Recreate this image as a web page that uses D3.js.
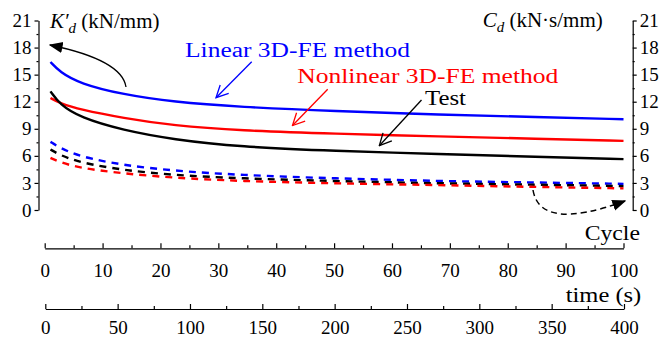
<!DOCTYPE html>
<html>
<head>
<meta charset="utf-8">
<script src="https://cdn.jsdelivr.net/npm/d3@7"></script>
<style>
  body { margin: 0; background: #fff; }
  svg text { font-family: 'Liberation Serif', 'DejaVu Serif', serif; }
  .axis path, .axis line { stroke: #000; stroke-width: 1.2; }
</style>
</head>
<body>
<svg id="chart"></svg>
<script>
// Dynamic stiffness K'd and damping Cd versus cycle / time

const cycles = [1, 2.6, 6.1, 13.5, 22.2, 33.7, 50, 68.3, 85, 100];

// solid lines: K'd (left axis)
const kLinear    = [16.4, 15.3, 14.0, 12.8, 11.97, 11.42, 10.95, 10.57, 10.3, 10.06];
const kNonlinear = [12.41, 11.85, 11.13, 10.2, 9.35, 8.8, 8.45, 8.15, 7.9, 7.66];
const kTest      = [13.15, 11.7, 10.25, 8.84, 7.81, 7.0, 6.55, 6.19, 5.9, 5.64];

// dashed lines: Cd (right axis)
const cLinear    = [7.55, 6.9, 5.9, 4.97, 4.35, 3.87, 3.5, 3.2, 3.05, 2.9];
const cNonlinear = [5.78, 5.3, 4.65, 4.05, 3.57, 3.2, 2.95, 2.76, 2.55, 2.4];
const cTest      = [6.71, 6.1, 5.25, 4.42, 3.87, 3.5, 3.2, 2.95, 2.8, 2.65];

const yTicks = [0, 3, 6, 9, 12, 15, 18, 21];
const cycleTicks = [0, 10, 20, 30, 40, 50, 60, 70, 80, 90, 100];
const timeTicks = [0, 50, 100, 150, 200, 250, 300, 350, 400];

const width = 668, height = 338;

const svg = d3.select('#chart')
  .attr('width', width)
  .attr('height', height);

// Scales
const xScale = d3.scaleLinear().domain([0, 100]).range([44.7, 623.5]);
const tScale = d3.scaleLinear().domain([0, 400]).range([45.3, 624]);
const yScale = d3.scaleLinear().domain([0, 21]).range([210, 20.5]);

const leftX = 38.5, rightX = 632.7;
const cycleY = 248.3, timeY = 309;

// Markers for arrows
const defs = svg.append('defs');
defs.append('marker')
  .attr('id', 'head-fill')
  .attr('viewBox', '0 0 10 10')
  .attr('refX', 9).attr('refY', 5)
  .attr('markerWidth', 14).attr('markerHeight', 14)
  .attr('markerUnits', 'userSpaceOnUse')
  .attr('orient', 'auto')
  .append('path')
  .attr('d', 'M0,1 L10,5 L0,9 Z')
  .attr('fill', '#000');

[['open-blue', '#0000ff'], ['open-red', '#ff0000'], ['open-black', '#000']].forEach(([id, col]) => {
  defs.append('marker')
    .attr('id', id)
    .attr('viewBox', '0 0 14 14')
    .attr('refX', 13).attr('refY', 7)
    .attr('markerWidth', 14).attr('markerHeight', 14)
    .attr('markerUnits', 'userSpaceOnUse')
    .attr('orient', 'auto')
    .append('path')
    .attr('d', 'M1,1 L13,7 L1,13')
    .attr('fill', 'none')
    .attr('stroke', col)
    .attr('stroke-width', 1.3);
});

// restyle tick labels after d3.axis sets its own font
function styleTicks(g) {
  g.attr('font-family', null).attr('font-size', 19);
  g.selectAll('text').attr('fill', '#000');
}

// Left axis
const leftAxis = svg.append('g')
  .attr('class', 'axis')
  .attr('transform', `translate(${leftX},0)`)
  .call(d3.axisLeft(yScale).tickValues(yTicks).tickSize(4).tickSizeOuter(0).tickPadding(3))
  .call(styleTicks);
leftAxis.append('g')
  .call(d3.axisLeft(yScale).tickValues(d3.range(1.5, 21, 3)).tickSize(2).tickFormat(''))
  .select('.domain').remove();

// Right axis
const rightAxis = svg.append('g')
  .attr('class', 'axis')
  .attr('transform', `translate(${rightX},0)`)
  .call(d3.axisRight(yScale).tickValues(yTicks).tickSize(4).tickSizeOuter(0).tickPadding(3))
  .call(styleTicks);
rightAxis.append('g')
  .call(d3.axisRight(yScale).tickValues(d3.range(1.5, 21, 3)).tickSize(2).tickFormat(''))
  .select('.domain').remove();

// Cycle axis (ticks point up)
const cycleAxis = svg.append('g')
  .attr('class', 'axis')
  .attr('transform', `translate(0,${cycleY})`)
  .call(d3.axisBottom(xScale).tickValues(cycleTicks).tickSize(-5).tickSizeOuter(0))
  .call(styleTicks);
cycleAxis.selectAll('.tick text').attr('y', 29).attr('dy', 0);
cycleAxis.append('g')
  .call(d3.axisBottom(xScale).tickValues(d3.range(5, 100, 10)).tickSize(-3).tickFormat(''))
  .select('.domain').remove();

// Time axis
const timeAxis = svg.append('g')
  .attr('class', 'axis')
  .attr('transform', `translate(0,${timeY})`)
  .call(d3.axisBottom(tScale).tickValues(timeTicks).tickSize(-5).tickSizeOuter(0))
  .call(styleTicks);
timeAxis.selectAll('.tick text').attr('y', 24.5).attr('dy', 0);
timeAxis.append('g')
  .call(d3.axisBottom(tScale).tickValues(d3.range(25, 400, 50)).tickSize(-3).tickFormat(''))
  .select('.domain').remove();

// Lines
const line = d3.line()
  .x((d, i) => xScale(cycles[i]))
  .y(d => yScale(d))
  .curve(d3.curveBasis);

const series = [
  { values: cLinear, color: '#0000ff', dash: '7,6' },
  { values: cTest, color: '#000', dash: '7,6' },
  { values: cNonlinear, color: '#ff0000', dash: '7,6' },
  { values: kNonlinear, color: '#ff0000', dash: null },
  { values: kTest, color: '#000', dash: null },
  { values: kLinear, color: '#0000ff', dash: null }
];

svg.append('g')
  .selectAll('path')
  .data(series)
  .enter()
  .append('path')
  .attr('d', d => line(d.values))
  .attr('fill', 'none')
  .attr('stroke', d => d.color)
  .attr('stroke-width', 2.4)
  .attr('stroke-dasharray', d => d.dash);

// Annotation arrows
svg.append('path')
  .attr('d', 'M126,87 Q122,60 50,45')
  .attr('fill', 'none').attr('stroke', '#000').attr('stroke-width', 1.3)
  .attr('marker-end', 'url(#head-fill)');

svg.append('path')
  .attr('d', 'M533,190 Q540,232 625,201')
  .attr('fill', 'none').attr('stroke', '#000').attr('stroke-width', 1.5)
  .attr('stroke-dasharray', '6,4')
  .attr('marker-end', 'url(#head-fill)');

const pointers = [
  { from: [251.7, 61.7], to: [216, 97.7], marker: 'open-blue', color: '#0000ff' },
  { from: [327.7, 89.3], to: [292.5, 125.5], marker: 'open-red', color: '#ff0000' },
  { from: [421.5, 100], to: [379.3, 145.7], marker: 'open-black', color: '#000' }
];
svg.append('g')
  .selectAll('line')
  .data(pointers)
  .enter()
  .append('line')
  .attr('x1', d => d.from[0]).attr('y1', d => d.from[1])
  .attr('x2', d => d.to[0]).attr('y2', d => d.to[1])
  .attr('stroke', d => d.color)
  .attr('stroke-width', 1.3)
  .attr('marker-end', d => `url(#${d.marker})`);

// Labels
const labels = [
  { text: 'Linear 3D-FE method', x: 185, y: 56.7, w: 225, color: '#0000ff' },
  { text: 'Nonlinear 3D-FE method', x: 297.3, y: 83.3, w: 261, color: '#ff0000' },
  { text: 'Test', x: 425, y: 105, w: 41, color: '#000' },
  { text: 'Cycle', x: 584.7, y: 240, w: 55.3, color: '#000' },
  { text: 'time (s)', x: 565.7, y: 301.7, w: 75.6, color: '#000' }
];
svg.append('g')
  .selectAll('text')
  .data(labels)
  .enter()
  .append('text')
  .attr('x', d => d.x)
  .attr('y', d => d.y)
  .attr('textLength', d => d.w)
  .attr('lengthAdjust', 'spacingAndGlyphs')
  .attr('font-size', 20)
  .attr('fill', d => d.color)
  .text(d => d.text);

// Axis titles
const kTitle = svg.append('text')
  .attr('x', 50).attr('y', 28.3)
  .attr('font-size', 21);
kTitle.append('tspan').attr('font-style', 'italic').text('K\u2032');
kTitle.append('tspan').attr('font-style', 'italic').attr('font-size', 15).attr('dy', 5).text('d');
kTitle.append('tspan').attr('dy', -5).text(' (kN/mm)');

const cTitle = svg.append('text')
  .attr('x', 482.7).attr('y', 27.3)
  .attr('font-size', 21);
cTitle.append('tspan').attr('font-style', 'italic').text('C');
cTitle.append('tspan').attr('font-style', 'italic').attr('font-size', 15).attr('dy', 5).text('d');
cTitle.append('tspan').attr('dy', -5).text(' (kN\u00b7s/mm)');
</script>
</body>
</html>
